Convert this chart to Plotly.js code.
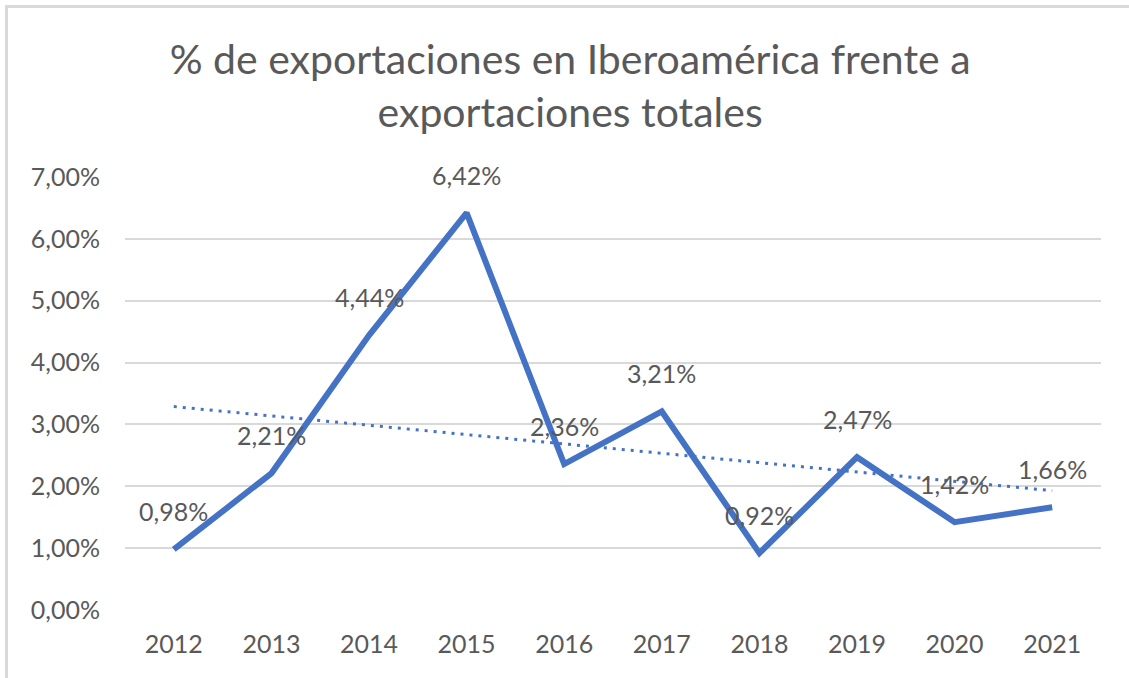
<!DOCTYPE html>
<html>
<head>
<meta charset="utf-8">
<script src="https://cdn.plot.ly/plotly-3.0.1.min.js"></script>
<style>
  html, body { margin: 0; padding: 0; background: #ffffff; }
  #chart { width: 1129px; height: 678px; }
  #frame { position: absolute; left: 5px; top: 5px; width: 1124px; height: 673px;
           border-top: 3px solid #d9d9d9; border-left: 3px solid #d9d9d9; box-sizing: border-box;
           pointer-events: none; }
</style>
</head>
<body>
<div id="chart"></div>
<div id="frame"></div>
<script>
const years = ['2012','2013','2014','2015','2016','2017','2018','2019','2020','2021'];
const sharePct = [0.98, 2.21, 4.44, 6.42, 2.36, 3.21, 0.92, 2.47, 1.42, 1.66];
const yTickVals = [0, 1, 2, 3, 4, 5, 6, 7];
const yTickText = ['0,00%','1,00%','2,00%','3,00%','4,00%','5,00%','6,00%','7,00%'];
const labelText = sharePct.map(v => v.toFixed(2).replace('.', ',') + '%');

// Linear trendline (least squares), as Excel computes it from the series
const n = sharePct.length;
const xs = sharePct.map((_, i) => i);
const mx = xs.reduce((a, b) => a + b, 0) / n;
const my = sharePct.reduce((a, b) => a + b, 0) / n;
let sxy = 0, sxx = 0;
for (let i = 0; i < n; i++) { sxy += (xs[i] - mx) * (sharePct[i] - my); sxx += (xs[i] - mx) ** 2; }
const slope = sxy / sxx, icpt = my - slope * mx;
const trend = xs.map(x => icpt + slope * x);

const font = 'Lato, "Open Sans", sans-serif';
const grey = '#595959';

const traces = [
  { x: years, y: sharePct, type: 'scatter', mode: 'lines',
    line: { color: '#4472C4', width: 6, shape: 'linear' }, hoverinfo: 'skip' },
  { x: [years[0], years[n - 1]], y: [trend[0], trend[n - 1]], type: 'scatter', mode: 'lines',
    line: { color: '#4472C4', width: 3, dash: '3px,6px' }, hoverinfo: 'skip' }
];

// category axis: position annotations by category index
const annotations = years.map((yr, i) => ({
  x: i, y: sharePct[i], xref: 'x', yref: 'y', text: labelText[i], showarrow: false,
  xanchor: 'center', yanchor: 'middle',
  yshift: 38, font: { family: font, size: 25, color: grey }
}));

const layout = {
  width: 1129, height: 678,
  margin: { l: 125, r: 28, t: 177, b: 68 },
  paper_bgcolor: '#ffffff', plot_bgcolor: '#ffffff',
  showlegend: false,
  title: { text: '% de exportaciones en Iberoamérica frente a<br>exportaciones totales',
           font: { family: font, size: 41, color: grey },
           x: 0.505, xanchor: 'center', y: 0.891, yref: 'container', yanchor: 'middle' },
  xaxis: { type: 'category', range: [-0.5, 9.5], showgrid: false, zeroline: false, showline: false,
           ticks: '', tickfont: { family: font, size: 25, color: grey }, ticklabelstandoff: 17 },
  yaxis: { range: [0, 7], tickvals: yTickVals, ticktext: yTickText, showgrid: true,
           gridcolor: '#d9d9d9', gridwidth: 2, zeroline: false, showline: false, ticks: '',
           tickfont: { family: font, size: 25, color: grey }, ticklabelstandoff: 24 },
  annotations: annotations
};

Plotly.newPlot('chart', traces, layout, { displayModeBar: false, staticPlot: true });
</script>
</body>
</html>
